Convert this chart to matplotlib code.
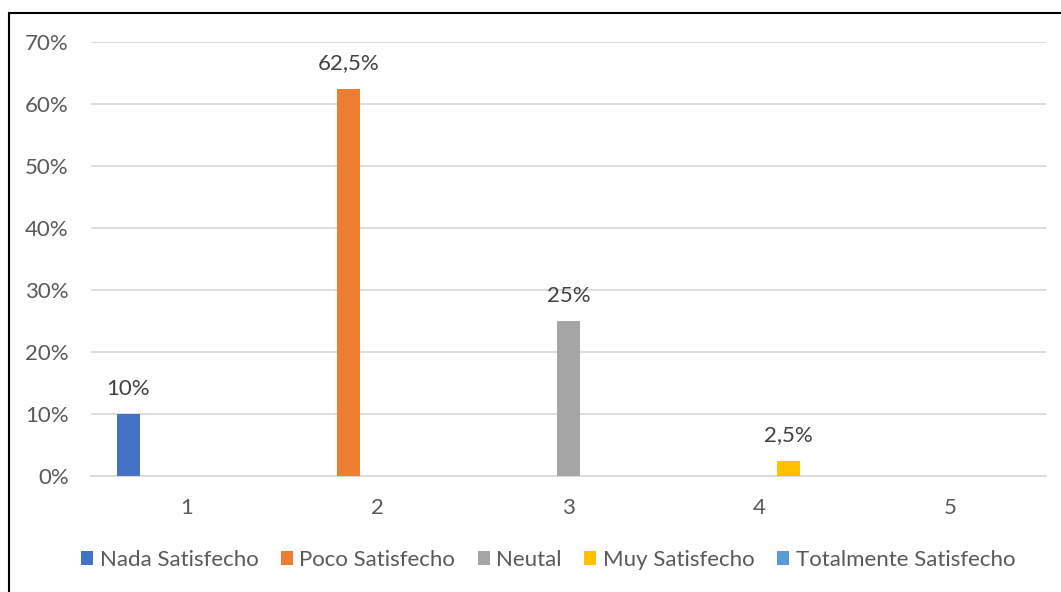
import numpy as np
import matplotlib.pyplot as plt
from matplotlib.lines import Line2D

plt.rcParams['font.family'] = ['Lato', 'DejaVu Sans']

categories = ['1', '2', '3', '4', '5']
series_names = ['Nada Satisfecho', 'Poco Satisfecho', 'Neutal', 'Muy Satisfecho', 'Totalmente Satisfecho']
nada = [0.10, 0, 0, 0, 0]
poco = [0, 0.625, 0, 0, 0]
neutal = [0, 0, 0.25, 0, 0]
muy = [0, 0, 0, 0.025, 0]
totalmente = [0, 0, 0, 0, 0]
labels = [['10%', '', '', '', ''],
          ['', '62,5%', '', '', ''],
          ['', '', '25%', '', ''],
          ['', '', '', '2,5%', ''],
          ['', '', '', '', '']]
colors = ['#4472C4', '#ED7D31', '#A5A5A5', '#FFC000', '#5B9BD5']
yticks = [0, 0.1, 0.2, 0.3, 0.4, 0.5, 0.6, 0.7]
ytick_labels = ['0%', '10%', '20%', '30%', '40%', '50%', '60%', '70%']

txt = '#595959'
grid = '#D9D9D9'
fs = 16

fig = plt.figure(figsize=(10.61, 5.92), dpi=100)
ax = fig.add_axes([91 / 1061, 1 - 476 / 592, 955 / 1061, 434 / 592])

x = np.arange(len(categories))
all_series = [nada, poco, neutal, muy, totalmente]
for i, vals in enumerate(all_series):
    pos = x + (i - 2) * 0.152
    bars = ax.bar(pos, vals, width=0.12, color=colors[i], label=series_names[i], zorder=3)
    for b, lab in zip(bars, labels[i]):
        if lab:
            ax.annotate(lab, (b.get_x() + b.get_width() / 2, b.get_height()),
                        xytext=(0, 18), textcoords='offset points',
                        ha='center', va='center', fontsize=fs, color='#404040')

ax.set_xlim(-0.5, 4.5)
ax.set_ylim(0, 0.7)
ax.set_yticks(yticks)
ax.set_yticklabels(ytick_labels)
ax.set_xticks(x)
ax.set_xticklabels(categories)
ax.tick_params(axis='y', length=0, pad=16, labelsize=fs, labelcolor=txt)
ax.tick_params(axis='x', length=0, pad=16, labelsize=fs, labelcolor=txt)
ax.grid(axis='y', color=grid, linewidth=1.3, zorder=0)
for s in ['top', 'right', 'left']:
    ax.spines[s].set_visible(False)
ax.spines['bottom'].set_color(grid)
ax.spines['bottom'].set_linewidth(1.3)

leg = ax.legend(ncol=5, loc='center', bbox_to_anchor=(548 / 1061, 1 - 560 / 592),
                bbox_transform=fig.transFigure, frameon=False, fontsize=fs,
                handlelength=0.55, handleheight=0.55, handletextpad=0.3,
                columnspacing=1.0)
for t in leg.get_texts():
    t.set_color(txt)

fig.add_artist(Line2D([9 / 1061, 1], [1 - 12.5 / 592, 1 - 12.5 / 592], color='black', linewidth=1.5, transform=fig.transFigure))
fig.add_artist(Line2D([9 / 1061, 9 / 1061], [0, 1 - 12.5 / 592], color='black', linewidth=1.5, transform=fig.transFigure))

fig.savefig('out.png', dpi=100, facecolor='white')
